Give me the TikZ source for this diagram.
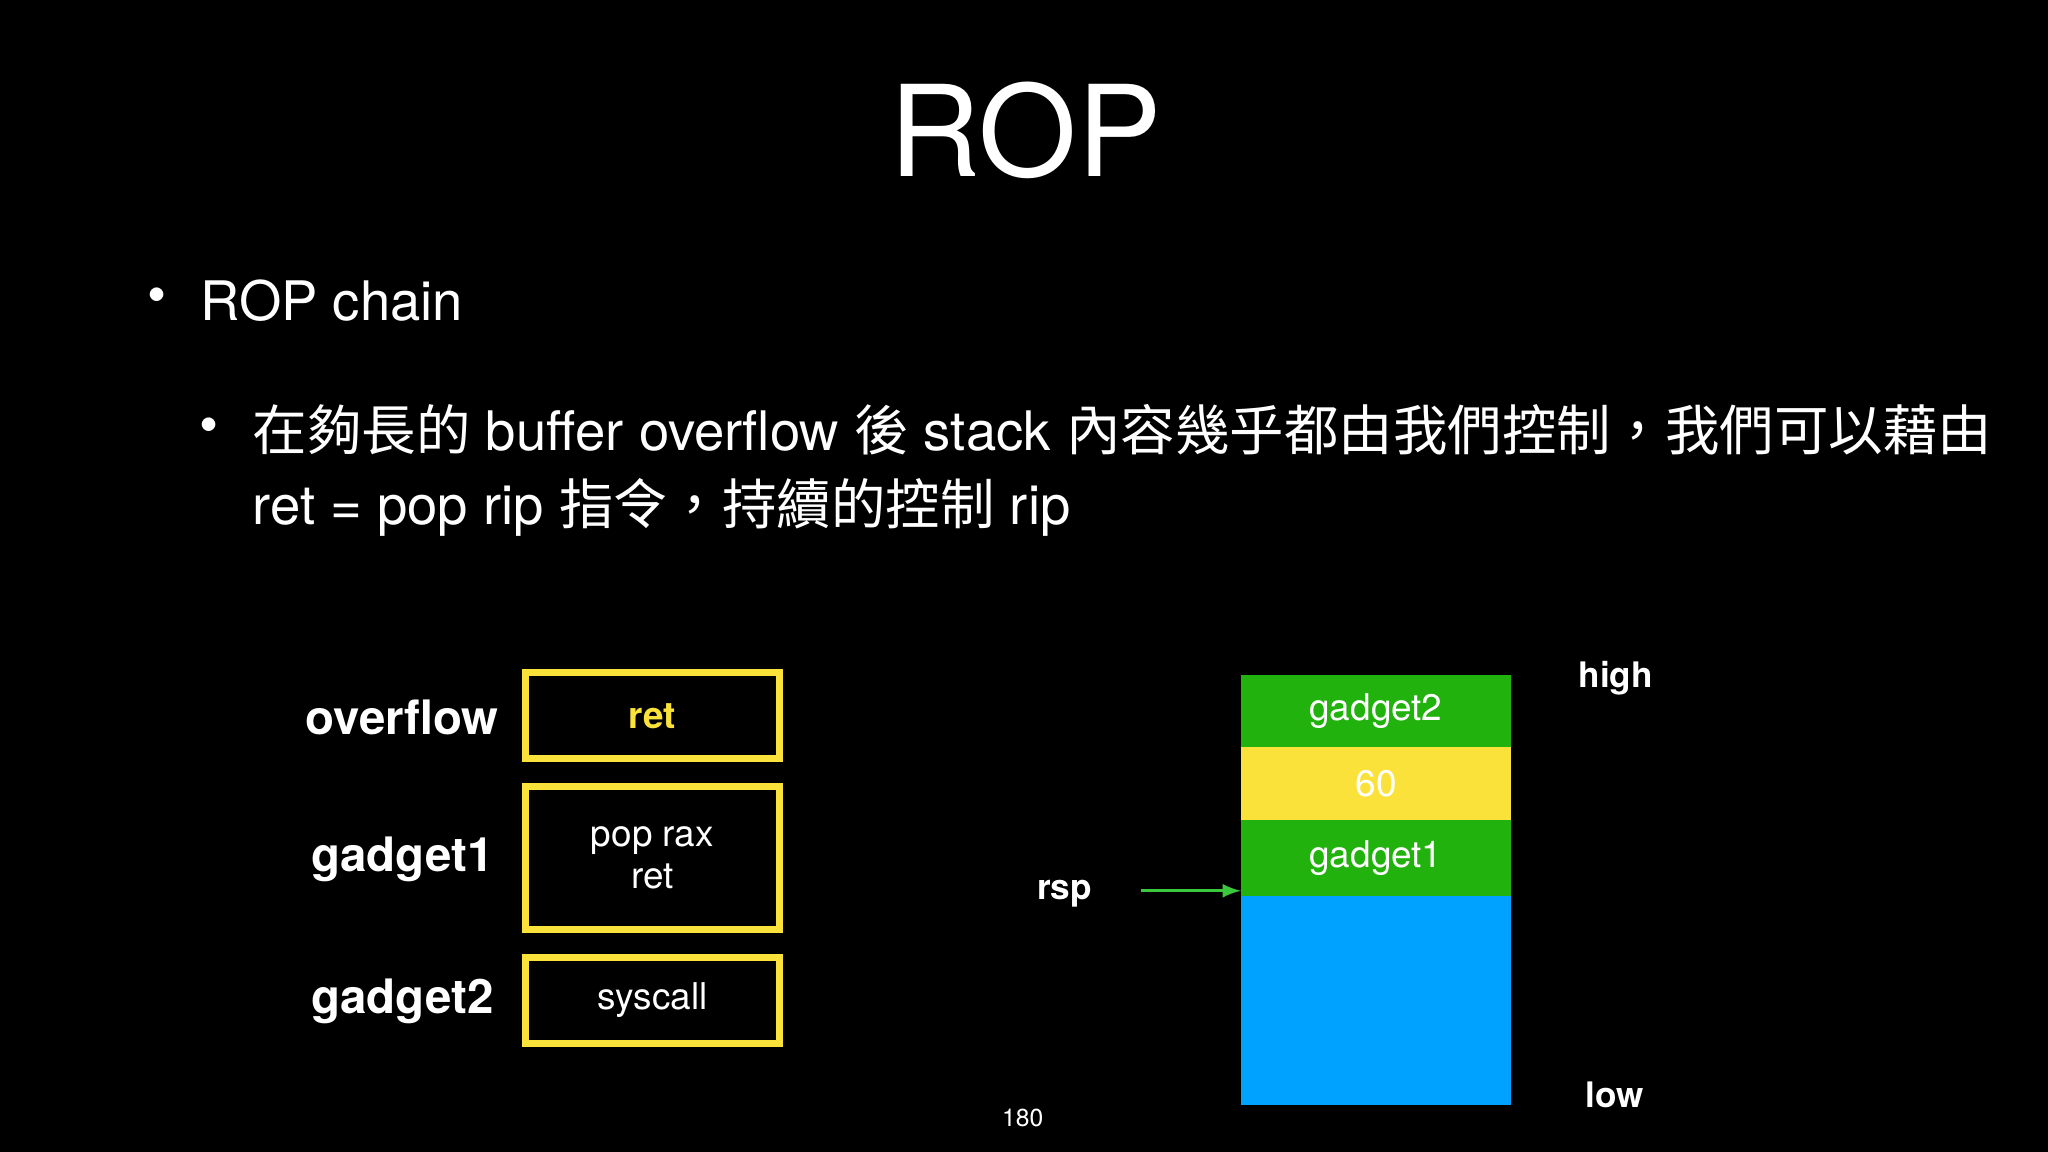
\documentclass[tikz,border=0pt]{standalone}
\usepackage{fontspec}
\setmainfont{TeX Gyre Heros}
\newfontfamily\cjk{Noto Sans CJK TC}
\usetikzlibrary{positioning}
\definecolor{ropyellow}{HTML}{FBE23A}
\definecolor{ropgreen}{HTML}{22B20E}
\definecolor{ropblue}{HTML}{00A2FF}
\definecolor{arrowgreen}{HTML}{3CC83C}

\begin{document}
\begin{tikzpicture}[x=0.013061cm,y=-0.013061cm,
    code/.style={draw=ropyellow,line width=2pt,minimum width=195*0.013061cm,align=center,font=\fontsize{10.5}{12}\selectfont,text=white},
    lbl/.style={font=\fontsize{13.5}{16}\selectfont\bfseries,text=white},
    cell/.style={minimum width=207*0.013061cm,inner sep=0pt,font=\fontsize{10.5}{12}\selectfont,text=white},
    side/.style={font=\fontsize{10}{12}\selectfont\bfseries,text=white}]
        \useasboundingbox (0,0) rectangle (1568,882);
        \fill[black] (0,0) rectangle (1568,882);

        \node[text=white,font=\fontsize{36}{40}\selectfont] (title) at (785,100) {ROP};
        \node[text=white,font=\fontsize{15.5}{18}\selectfont] (b1) at (120,230) {•};
        \node[text=white,font=\fontsize{15.5}{18}\selectfont,anchor=west,inner sep=0pt] (chain) at (153,230) {ROP chain};
        \node[text=white,font=\fontsize{15.5}{18}\selectfont] (b2) at (160,330) {•};
        \node[text=white,font=\fontsize{15.5}{21}\selectfont,anchor=north west,inner sep=0pt,align=left] (desc) at (193,309)
            {{\cjk 在夠長的} buffer overflow {\cjk 後} stack {\cjk 內容幾乎都由我們控制，我們可以藉由}\\
             ret = pop rip {\cjk 指令，持續的控制} rip};

        % gadgets
        \node[code,minimum height=66*0.013061cm,text=ropyellow,font=\fontsize{10.5}{12}\selectfont\bfseries] (ret) at (499.5,548) {ret};
        \node[code,minimum height=110*0.013061cm] (g1code) at (499.5,657) {pop rax\\ret};
        \node[code,minimum height=66*0.013061cm] (g2code) at (499.5,766) {syscall};
        \node[lbl] (ovf) at (308,549) {overflow};
        \node[lbl] (g1lbl) at (308,658) {gadget1};
        \node[lbl] (g2lbl) at (308,767) {gadget2};

        % stack
        \node[cell,fill=ropgreen,minimum height=55*0.013061cm] (s1) at (1053.5,544.5) {gadget2};
        \node[cell,fill=ropyellow,minimum height=56*0.013061cm] (s2) at (1053.5,600) {60};
        \node[cell,fill=ropgreen,minimum height=58*0.013061cm] (s3) at (1053.5,657) {gadget1};
        \node[cell,fill=ropblue,minimum height=160*0.013061cm] (s4) at (1053.5,766) {};

        \node[side] (high) at (1237,519) {high};
        \node[side] (low) at (1236,838) {low};
        \node[side] (rsp) at (815,684) {rsp};
        \coordinate (rspend) at (950,682);
        \draw[arrowgreen,line width=0.8pt,-latex] (rsp.east) ++(28,-2) -- (rspend);

        \node[text=white,font=\fontsize{7}{9}\selectfont] (page) at (783,856) {180};
    \end{tikzpicture}
\end{document}
